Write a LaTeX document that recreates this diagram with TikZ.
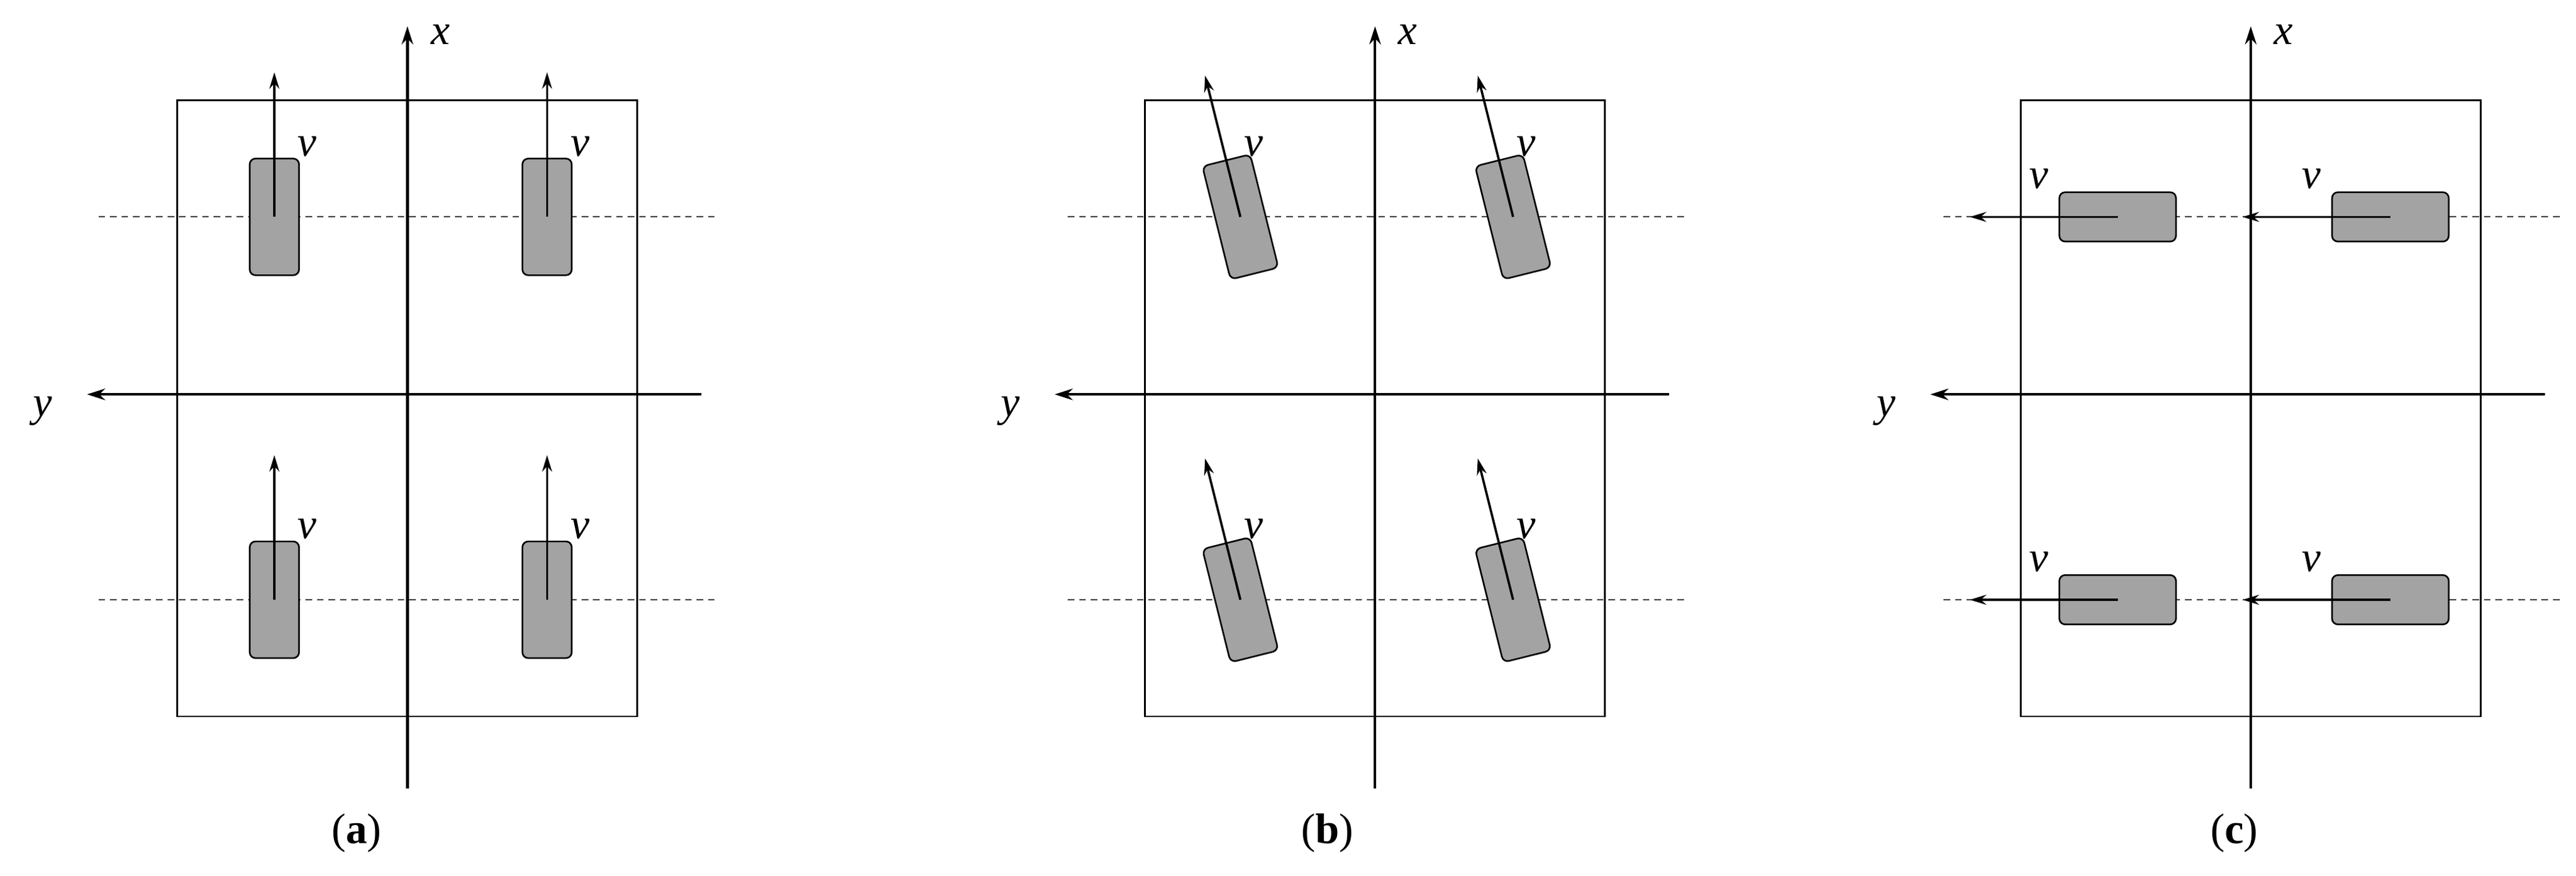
\documentclass[tikz,border=0pt]{standalone}
\usepackage{fontspec}
\setmainfont{Liberation Serif}
\usetikzlibrary{arrows.meta,calc}
\definecolor{wg}{HTML}{A3A3A3}
\begin{document}
\begin{tikzpicture}[x=1pt,y=-1pt,
  box/.style={line width=1.1pt},
  axis/.style={line width=1.6pt,-{Stealth[length=11pt,width=7pt]}},
  dsh/.style={line width=0.8pt,dash pattern=on 4pt off 3pt,black!75},
  wheelv/.style={draw,line width=1pt,fill=wg,rounded corners=3.5pt,minimum width=30pt,minimum height=71pt,inner sep=0pt},
  wheelh/.style={draw,line width=1pt,fill=wg,rounded corners=3.5pt,minimum width=71pt,minimum height=30pt,inner sep=0pt},
  vel/.style={line width=1.4pt,-{Stealth[length=10pt,width=6pt]}},
  lab/.style={font=\fontsize{26}{30}\selectfont\itshape},
  capt/.style={font=\fontsize{26}{30}\selectfont}]
\useasboundingbox (0,0) rectangle (1568,533);
% ---------- panel a
\draw[dsh] (60,132) -- (437,132);
\draw[dsh] (60,365) -- (437,365);
\node[box,draw,minimum width=280pt,minimum height=375pt,inner sep=0pt] (ba) at (248,248.5) {};
\coordinate (ax0) at (248,480); \coordinate (ax1) at (248,16);
\coordinate (ay0) at (427,240); \coordinate (ay1) at (53,240);
\draw[axis] (ax0) -- (ax1); \draw[axis] (ay0) -- (ay1);
\node[lab] (xa) at (268,21) {x};
\node[lab] (ya) at (26,250) {y};
\foreach \n/\cx/\cy in {a1/167/132,a2/333/132,a3/167/365,a4/333/365}{
  \node[wheelv] (\n) at (\cx,\cy) {};
  \coordinate (\n t) at (\cx,\cy-88);
  \draw[vel] (\n.center) -- (\n t);
  \node[lab] at (\cx+20,\cy-43) {v};
}
\node[capt] (ca) at (217,507) {(\textbf{a})};
% ---------- panel b
\draw[dsh] (650,132) -- (1027,132);
\draw[dsh] (650,365) -- (1027,365);
\node[box,draw,minimum width=280pt,minimum height=375pt,inner sep=0pt] (bb) at (837,248.5) {};
\coordinate (bx0) at (837,480); \coordinate (bx1) at (837,16);
\coordinate (by0) at (1016,240); \coordinate (by1) at (642,240);
\draw[axis] (bx0) -- (bx1); \draw[axis] (by0) -- (by1);
\node[lab] (xb) at (857,21) {x};
\node[lab] (yb) at (615,250) {y};
\foreach \n/\cx/\cy in {b1/755/132,b2/921/132,b3/755/365,b4/921/365}{
  \node[wheelv,rotate=14] (\n) at (\cx,\cy) {};
  \coordinate (\n t) at ($(\cx,\cy)+(-21.5,-86)$);
  \draw[vel] (\n.center) -- (\n t);
  \node[lab] at (\cx+8,\cy-43) {v};
}
\node[capt] (cb) at (808,507) {(\textbf{b})};
% ---------- panel c
\draw[dsh] (1183,132) -- (1560,132);
\draw[dsh] (1183,365) -- (1560,365);
\node[box,draw,minimum width=280pt,minimum height=375pt,inner sep=0pt] (bc) at (1370,248.5) {};
\coordinate (cx0) at (1370,480); \coordinate (cx1) at (1370,16);
\coordinate (cy0) at (1549,240); \coordinate (cy1) at (1175,240);
\draw[axis] (cx0) -- (cx1); \draw[axis] (cy0) -- (cy1);
\node[lab] (xc) at (1390,21) {x};
\node[lab] (yc) at (1148,250) {y};
\foreach \n/\cx/\cy in {c1/1289/132,c2/1455/132,c3/1289/365,c4/1455/365}{
  \node[wheelh] (\n) at (\cx,\cy) {};
  \coordinate (\n t) at (\cx-90,\cy);
  \draw[vel] (\n.center) -- (\n t);
  \node[lab] at (\cx-48,\cy-23) {v};
}
\node[capt] (cc) at (1360,507) {(\textbf{c})};
\end{tikzpicture}
\end{document}
